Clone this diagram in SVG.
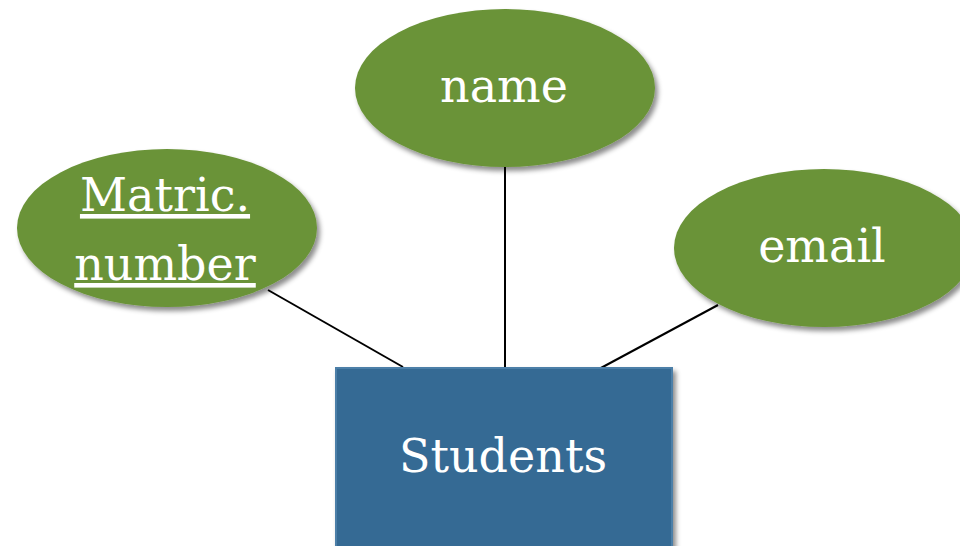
<svg xmlns="http://www.w3.org/2000/svg" width="960" height="546" viewBox="0 0 960 546">
<style>
.attr{fill:#6a9338;filter:url(#sh)}
.ent{fill:#366a94;filter:url(#sh)}
.lbl{font-family:"DejaVu Serif","Liberation Serif",serif;font-size:46px;fill:#ffffff;text-anchor:middle}
.key{text-decoration:underline}
.conn line{stroke:#000;stroke-width:2}
</style>
<defs>
<filter id="sh" x="-10%" y="-10%" width="125%" height="130%">
<feDropShadow dx="3" dy="4" stdDeviation="2.5" flood-color="#000" flood-opacity="0.45"/>
</filter>
</defs>
<rect width="960" height="546" fill="#fff"/>
<g id="connectors" class="conn">
<line x1="268" y1="290" x2="403" y2="367"/>
<line x1="505" y1="167" x2="505" y2="367"/>
<line x1="718" y1="305" x2="599" y2="369"/>
</g>
<g id="name">
<ellipse class="attr" cx="505" cy="88" rx="150" ry="79"/>
<text class="lbl" x="504" y="102">name</text>
</g>
<g id="matric">
<ellipse class="attr" cx="167" cy="228" rx="150" ry="79"/>
<text class="lbl key" x="165" y="211">Matric.</text>
<text class="lbl key" x="165" y="280">number</text>
</g>
<g id="email">
<ellipse class="attr" cx="824" cy="248" rx="150" ry="79"/>
<text class="lbl" x="822" y="262">email</text>
</g>
<g id="students">
<rect class="ent" x="335" y="367" width="338" height="200"/>
<rect x="336" y="368" width="336" height="198" fill="none" stroke="#4c7fa8" stroke-width="2"/>
<text class="lbl" x="503" y="472">Students</text>
</g>
</svg>
